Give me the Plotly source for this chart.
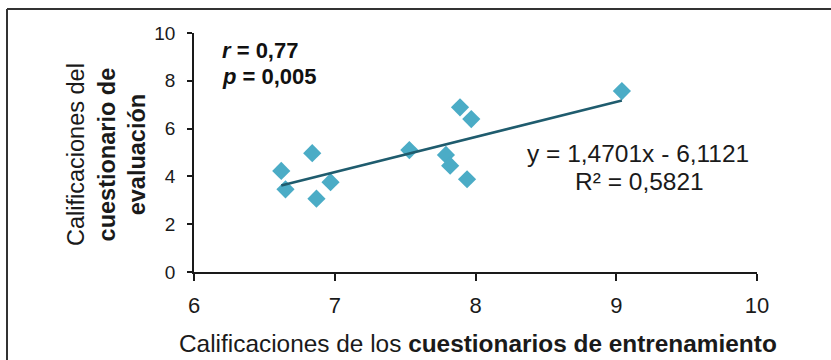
import plotly.graph_objects as go

# Calificaciones por estudiante
entrenamiento = [6.62, 6.65, 6.84, 6.87, 6.97, 7.53, 7.79, 7.82, 7.94, 7.89, 7.97, 9.04]
evaluacion = [4.23, 3.46, 4.97, 3.07, 3.76, 5.10, 4.90, 4.45, 3.88, 6.89, 6.40, 7.57]

# Recta de regresión lineal
pendiente = 1.4701
intercepto = -6.1121
r2 = 0.5821
r_valor = "0,77"
p_valor = "0,005"

x_ticks = [6, 7, 8, 9, 10]
y_ticks = [0, 2, 4, 6, 8, 10]

W, H = 831, 360
L, R, T, B = 194, 74, 33, 88
PW, PH = W - L - R, H - T - B


def px(x):
    return (x - L) / PW


def py(y):
    return (H - B - y) / PH


FONT = "Liberation Sans, Arial, sans-serif"
AXIS_COLOR = "#1a1a1a"

x_fit = [min(entrenamiento), max(entrenamiento)]
y_fit = [pendiente * v + intercepto for v in x_fit]

fig = go.Figure()
fig.add_trace(go.Scatter(
    x=entrenamiento, y=evaluacion, mode="markers",
    marker=dict(symbol="diamond", size=14, color="#4BACC6", line=dict(width=0)),
    showlegend=False, hoverinfo="x+y",
))
fig.add_trace(go.Scatter(
    x=x_fit, y=y_fit, mode="lines",
    line=dict(color="#1F5C6E", width=2.5),
    showlegend=False, hoverinfo="skip",
))

fig.update_xaxes(
    range=[6, 10], tickvals=x_ticks, ticktext=[str(v) for v in x_ticks],
    showgrid=False, zeroline=False, showline=True, linecolor=AXIS_COLOR, linewidth=1.5,
    ticks="outside", ticklen=7, tickwidth=1.5, tickcolor=AXIS_COLOR,
    tickfont=dict(family=FONT, size=22, color="#1a1a1a"), ticklabelstandoff=6,
)
fig.update_yaxes(
    range=[0, 10], tickvals=y_ticks, ticktext=[str(v) for v in y_ticks],
    showgrid=False, zeroline=False, showline=True, linecolor=AXIS_COLOR, linewidth=1.5,
    ticks="outside", ticklen=5, tickwidth=1.5, tickcolor=AXIS_COLOR,
    tickfont=dict(family=FONT, size=19, color="#1a1a1a"), ticklabelstandoff=8,
)

annotations = [
    dict(x=px(220), y=py(50), xref="paper", yref="paper", xanchor="left", yanchor="middle",
         text=f"<b><i>r</i> = {r_valor}</b>", showarrow=False,
         font=dict(family=FONT, size=22, color="#111111")),
    dict(x=px(220), y=py(76), xref="paper", yref="paper", xanchor="left", yanchor="middle",
         text=f"<b><i>p</i> = {p_valor}</b>", showarrow=False,
         font=dict(family=FONT, size=22, color="#111111")),
    dict(x=px(638), y=py(153), xref="paper", yref="paper", xanchor="center", yanchor="middle",
         text=f"y = {pendiente:.4f}x - {abs(intercepto):.4f}".replace(".", ","), showarrow=False,
         font=dict(family=FONT, size=24.5, color="#1a1a1a")),
    dict(x=px(639), y=py(181), xref="paper", yref="paper", xanchor="center", yanchor="middle",
         text=f"R² = {r2:.4f}".replace(".", ","), showarrow=False,
         font=dict(family=FONT, size=24.5, color="#1a1a1a")),
    dict(x=px(478), y=py(343), xref="paper", yref="paper", xanchor="center", yanchor="middle",
         text="Calificaciones de los <b>cuestionarios de entrenamiento</b>", showarrow=False,
         font=dict(family=FONT, size=24.4, color="#1a1a1a")),
    dict(x=px(106), y=py(154), xref="paper", yref="paper", xanchor="center", yanchor="middle",
         textangle=-90,
         text="Calificaciones del<br><b>cuestionario de</b><br><b>evaluación</b>", showarrow=False,
         font=dict(family=FONT, size=23.5, color="#1a1a1a")),
]

# Marco exterior del gráfico
shapes = [
    dict(type="line", xref="paper", yref="paper", x0=px(7), x1=px(W + 5), y0=py(9), y1=py(9),
         line=dict(color="#333333", width=2)),
    dict(type="line", xref="paper", yref="paper", x0=px(7), x1=px(7), y0=py(9), y1=py(H + 5),
         line=dict(color="#333333", width=2)),
]

fig.update_layout(
    width=W, height=H,
    margin=dict(l=L, r=R, t=T, b=B),
    paper_bgcolor="white", plot_bgcolor="white",
    annotations=annotations, shapes=shapes,
    font=dict(family=FONT),
)

fig.write_html("out.html")
